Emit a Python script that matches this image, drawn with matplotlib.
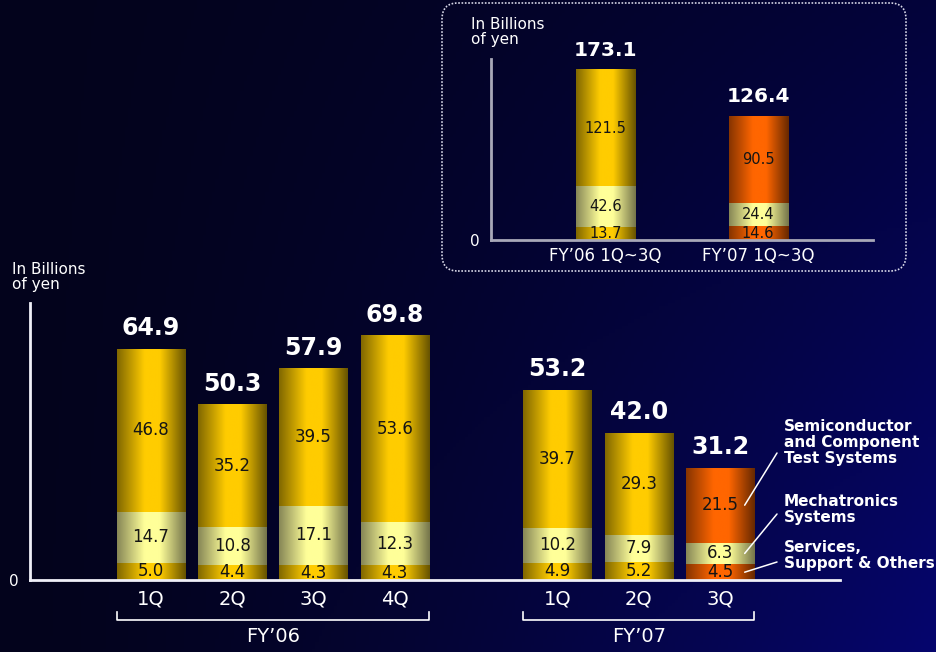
import numpy as np
import matplotlib
matplotlib.use("Agg")
import matplotlib.pyplot as plt
from matplotlib.colors import LinearSegmentedColormap
from matplotlib.patches import FancyBboxPatch
from matplotlib.transforms import blended_transform_factory

# ---------------- data ----------------
quarters = ["1Q", "2Q", "3Q", "4Q", "1Q", "2Q", "3Q"]
fiscal_years = ["FY\u201906", "FY\u201907"]
fy_groups = [[0, 1, 2, 3], [4, 5, 6]]
services = [5.0, 4.4, 4.3, 4.3, 4.9, 5.2, 4.5]
mechatronics = [14.7, 10.8, 17.1, 12.3, 10.2, 7.9, 6.3]
semiconductor = [46.8, 35.2, 39.5, 53.6, 39.7, 29.3, 21.5]
totals = [64.9, 50.3, 57.9, 69.8, 53.2, 42.0, 31.2]

cum_labels = ["FY\u201906 1Q~3Q", "FY\u201907 1Q~3Q"]
cum_services = [13.7, 14.6]
cum_mechatronics = [42.6, 24.4]
cum_semiconductor = [121.5, 90.5]
cum_totals = [173.1, 126.4]

legend_labels = ["Semiconductor\nand Component\nTest Systems",
                 "Mechatronics\nSystems",
                 "Services,\nSupport & Others"]

# ---------------- style ----------------
W, H = 937, 652
DPI = 100
fig = plt.figure(figsize=(W / DPI, H / DPI), dpi=DPI)
plt.rcParams['font.family'] = ['DejaVu Sans']

def fx(px):
    return px / W

def fy(py):
    return 1 - py / H

# background gradient (row 0 = top of figure)
bg = fig.add_axes([0, 0, 1, 1], zorder=-10)
xx, yy = np.meshgrid(np.linspace(0, 1, 300), np.linspace(0, 1, 200))
blue = 28 + 82 * xx ** 1.5 * (0.38 + 0.62 * yy)
rg = 3 + 3 * xx * yy
img = np.dstack([rg / 255, rg / 255, blue / 255])
bg.imshow(img, extent=(0, 1, 0, 1), aspect='auto', origin='upper')
bg.set_axis_off()

gold = LinearSegmentedColormap.from_list("gold", [(0, "#806700"), (0.4, "#ffcc00"), (0.62, "#ffcc00"), (1, "#665200")])
light = LinearSegmentedColormap.from_list("light", [(0, "#868656"), (0.4, "#ffff99"), (0.62, "#ffff99"), (1, "#74744a")])
orange = LinearSegmentedColormap.from_list("orange", [(0, "#863400"), (0.4, "#ff6600"), (0.62, "#ff6600"), (1, "#662800")])
grad = np.linspace(0, 1, 256).reshape(1, -1)


def shade(ax, patches, cmaps):
    for p, cm in zip(patches, cmaps):
        x0, y0 = p.get_x(), p.get_y()
        w, h = p.get_width(), p.get_height()
        ax.imshow(grad, extent=(x0, x0 + w, y0, y0 + h), aspect='auto',
                  cmap=cm, interpolation='bicubic', zorder=2)


def stacked(ax, xpos, width, layers, main_cmaps, fs_seg):
    bottoms = np.zeros(len(xpos))
    all_bars = []
    for li, vals in enumerate(layers):
        bars = ax.bar(xpos, vals, width, bottom=bottoms, color='none', linewidth=0, zorder=3)
        if li == 1:
            cms = [light] * len(xpos)
        else:
            cms = main_cmaps
        shade(ax, bars.patches, cms)
        for p, v in zip(bars.patches, vals):
            ax.text(p.get_x() + p.get_width() / 2, p.get_y() + p.get_height() / 2,
                    f"{v:.1f}", ha='center', va='center', fontsize=fs_seg,
                    color='#151515', zorder=4)
        all_bars.append(bars)
        bottoms = bottoms + np.array(vals)
    return bottoms, all_bars


# ---------------- main chart ----------------
ax = fig.add_axes([fx(30), fy(580), fx(810), 277 / H])
ax.set_facecolor('none')
xpos = np.array([0, 1, 2, 3, 5, 6, 7], dtype=float)
bw = 0.84
highlight = [False, False, False, False, False, False, True]
main_cmaps = [orange if h else gold for h in highlight]
tops, bars_main = stacked(ax, xpos, bw, [services, mechatronics, semiconductor], main_cmaps, 12)
for x, t, v in zip(xpos, tops, totals):
    ax.annotate(f"{v:.1f}", (x, t), xytext=(0, 10), textcoords='offset points',
                ha='center', va='baseline', fontsize=17, fontweight='bold', color='white',
                annotation_clip=False)

ax.set_xlim(-1.488, 8.475)
ax.set_ylim(0, 79.8)
for s in ['top', 'right']:
    ax.spines[s].set_visible(False)
for s in ['left', 'bottom']:
    ax.spines[s].set_color('#f0f0f8')
    ax.spines[s].set_linewidth(2)
ax.set_xticks(xpos)
ax.set_xticklabels(quarters, fontsize=14, color='white')
ax.set_yticks([0])
ax.set_yticklabels(["0"], fontsize=11, color='white')
ax.tick_params(axis='x', length=0, pad=7)
ax.tick_params(axis='y', length=0, pad=8)

fig.text(fx(12), fy(262), "In Billions\nof yen", fontsize=11, color='white',
         ha='left', va='top', linespacing=1.0)

# group brackets
tr = blended_transform_factory(ax.transData, fig.transFigure)
for grp, lab in zip(fy_groups, fiscal_years):
    xl = xpos[grp[0]] - bw / 2
    xr = xpos[grp[-1]] + bw / 2
    ax.plot([xl, xl, xr, xr], [fy(612), fy(620), fy(620), fy(612)], color='white',
            lw=1.2, transform=tr, clip_on=False)
    ax.text((xl + xr) / 2, fy(637), lab, transform=tr, ha='center', va='center',
            fontsize=14, color='white')

# legend text & leader lines
legend_tops = [419, 494, 540]
line_starts = [(777, 453), (777, 514), (777, 562)]
last = len(xpos) - 1
seg_bottoms = [services[last] + mechatronics[last], services[last], 0]
seg_heights = [semiconductor[last], mechatronics[last], services[last]]
for lab, ty, (sx, sy), b, h in zip(legend_labels, legend_tops, line_starts, seg_bottoms, seg_heights):
    fig.text(fx(784), fy(ty), lab, fontsize=11, fontweight='bold', color='white',
             ha='left', va='top', linespacing=1.08)
    ax.annotate("", xy=(xpos[last] + bw * 0.36, b + h / 2),
                xytext=(fx(sx), fy(sy)), textcoords='figure fraction',
                arrowprops=dict(arrowstyle='-', color='white', lw=1.1, shrinkA=0, shrinkB=0),
                annotation_clip=False)

# ---------------- inset chart ----------------
box = FancyBboxPatch((4.42, (H - 271) / DPI), 4.64, 2.68,
                     boxstyle="round,pad=0,rounding_size=0.16",
                     transform=fig.dpi_scale_trans, facecolor='none',
                     edgecolor='#d8d8e8', linestyle=(0, (1, 1)), lw=1.2)
fig.patches.append(box)

ax2 = fig.add_axes([fx(491), fy(240), fx(382), 181 / H])
ax2.set_facecolor('none')
ipos = np.array([0, 1], dtype=float)
iw = 0.387
inset_cmaps = [gold, orange]
itops, _ = stacked(ax2, ipos, iw, [cum_services, cum_mechatronics, cum_semiconductor], inset_cmaps, 10.5)
for x, t, v in zip(ipos, itops, cum_totals):
    ax2.annotate(f"{v:.1f}", (x, t), xytext=(0, 10), textcoords='offset points',
                 ha='center', va='baseline', fontsize=14.5, fontweight='bold', color='white',
                 annotation_clip=False)
ax2.set_xlim(-0.751, 1.754)
ax2.set_ylim(0, 189.3)
for s in ['top', 'right']:
    ax2.spines[s].set_visible(False)
for s in ['left', 'bottom']:
    ax2.spines[s].set_color('#a8a8b8')
    ax2.spines[s].set_linewidth(2)
ax2.set_xticks(ipos)
ax2.set_xticklabels(cum_labels, fontsize=12, color='white')
ax2.set_yticks([0])
ax2.set_yticklabels(["0"], fontsize=11, color='white')
ax2.tick_params(axis='x', length=0, pad=5)
ax2.tick_params(axis='y', length=0, pad=8)
fig.text(fx(471), fy(17), "In Billions\nof yen", fontsize=11, color='white',
         ha='left', va='top', linespacing=1.0)

fig.savefig("out.png", dpi=DPI)
